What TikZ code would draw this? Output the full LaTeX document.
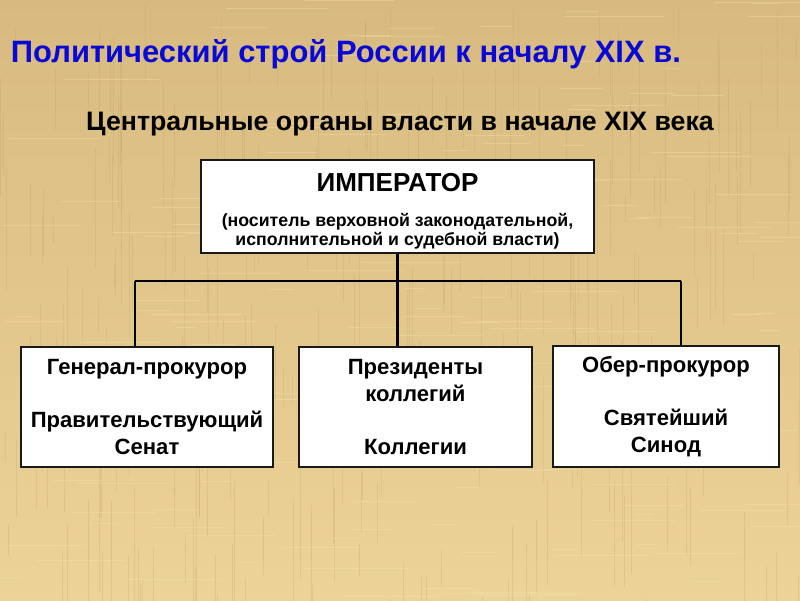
\documentclass[tikz,border=0pt]{standalone}
\usepackage{fontspec}
\setmainfont{Liberation Sans}
\usetikzlibrary{positioning}
\definecolor{papyrustop}{RGB}{216,186,128}
\definecolor{papyrusbot}{RGB}{236,211,152}
\definecolor{papyrusdark}{RGB}{188,152,92}
\definecolor{papyruslight}{RGB}{246,228,180}
\definecolor{titleblue}{RGB}{8,8,215}

\begin{document}
\begin{tikzpicture}[
    x=0.025cm, y=-0.025cm,
    organ/.style={rectangle, draw=black!90, line width=0.9pt, fill=white, align=center, font=\bfseries\fontsize{15.7}{19}\selectfont, inner sep=2pt},
    link/.style={line width=1.5pt, black}
]
    % papyrus background
    \shade[top color=papyrustop, bottom color=papyrusbot] (0,0) rectangle (800,600);
    \useasboundingbox (0,0) rectangle (800,600);
    \pgfmathsetseed{7}
    \foreach \i in {1,...,260} {
        \pgfmathsetmacro\xx{rnd*800}
        \pgfmathsetmacro\yy{rnd*600}
        \pgfmathsetmacro\ll{20+rnd*120}
        \draw[papyrusdark, opacity=0.22, line width=0.5pt] (\xx,\yy) -- ++(0,\ll);
    }
    \foreach \i in {1,...,160} {
        \pgfmathsetmacro\xx{rnd*800}
        \pgfmathsetmacro\yy{rnd*600}
        \pgfmathsetmacro\ll{15+rnd*90}
        \draw[papyruslight, opacity=0.35, line width=0.5pt] (\xx,\yy) -- ++(\ll,0);
    }

    % titles
    \node[anchor=base west, text=titleblue, font=\bfseries\fontsize{22}{26}\selectfont] (title) at (6,62) {Политический строй России к началу XIX в.};
    \node[anchor=base, font=\bfseries\fontsize{19}{22}\selectfont] (subtitle) at (400,130) {Центральные органы власти в начале XIX века};

    % organs
    \node[organ, font=\bfseries\fontsize{12.6}{14}\selectfont, minimum width=9.825cm, minimum height=2.325cm] (emp) at (397.5,206.5)
        {\rule{0pt}{19.6pt}{\fontsize{18.5}{21}\selectfont ИМПЕРАТОР}\\[10.8pt]
         (носитель верховной законодательной,\\ исполнительной и судебной власти)};
    \node[organ, minimum width=6.3cm, minimum height=3cm] (gp) at (147,407)
        {Генерал-прокурор\\[18.5pt] Правительствующий\\ Сенат};
    \node[organ, minimum width=5.825cm, minimum height=3cm] (prez) at (415.5,407)
        {Президенты\\ коллегий\\[18.5pt] Коллегии};
    \node[organ, minimum width=5.65cm, minimum height=3.025cm] (ober) at (666,406.5)
        {Обер-прокурор\\[18.5pt] Святейший\\ Синод};

    % connectors
    \coordinate (busL) at (135,281);
    \coordinate (busR) at (681,281);
    \draw[link] (busL) -- (busR);
    \draw[link] (emp.south) -- (prez.north -| emp.south);
    \draw[link] (busL) -- (gp.north -| busL);
    \draw[link] (busR) -- (ober.north -| busR);
\end{tikzpicture}
\end{document}
